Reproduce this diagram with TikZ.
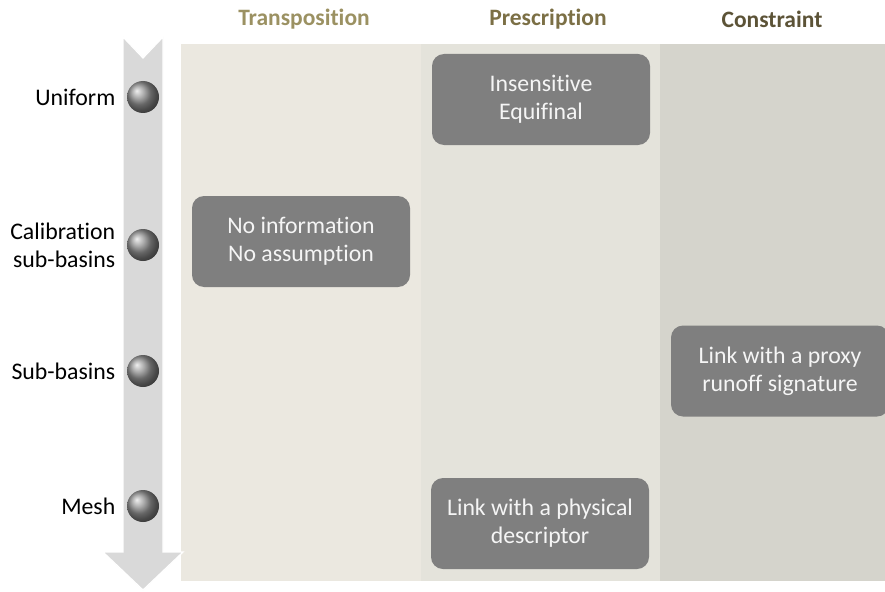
\documentclass[tikz,border=0pt]{standalone}
\usepackage{fontspec}
\setmainfont[Ligatures={NoCommon}]{Carlito}
\usepackage{tikz}
\usetikzlibrary{positioning}
\definecolor{colA}{HTML}{EBE8E0}
\definecolor{colB}{HTML}{E4E3DB}
\definecolor{colC}{HTML}{D5D4CC}
\definecolor{headA}{HTML}{9B9162}
\definecolor{headB}{HTML}{7B6F45}
\definecolor{headC}{HTML}{5C5337}
\definecolor{boxgray}{HTML}{7F7F7F}
\definecolor{shaft}{HTML}{D9D9D9}
\tikzstyle{block} = [rectangle, fill=boxgray, text=white!96!black, align=center,
    minimum width=218pt, minimum height=91pt, rounded corners=12pt,
    font=\fontsize{23.8}{28}\selectfont]
\tikzstyle{head} = [font=\fontsize{23.5}{26}\selectfont\bfseries]
\tikzstyle{bead} = [circle, minimum size=32pt, inner sep=0pt, shading=ball, ball color=gray!85]
\tikzstyle{level} = [align=right, font=\fontsize{23.8}{28}\selectfont]

\begin{document}
\begin{tikzpicture}[x=1pt, y=-1pt, node distance = 8pt]
   \useasboundingbox (0,0) rectangle (885,591);
   % three columns
   \fill [colA] (181,44) rectangle (421,581);
   \fill [colB] (421,44) rectangle (660,581);
   \fill [colC] (660,44) rectangle (885,581);
   \node [head, text=headA] (transposition) at (304,19) {Transposition};
   \node [head, text=headB] (prescription) at (548,19) {Prescription};
   \node [head, text=headC] (constraint) at (772,19) {Constraint};
   % scale arrow
   \filldraw [fill=shaft, draw=white, line width=1.2pt]
     (123,37) -- (143,58) -- (163,37) -- (163,552) -- (183,552)
     -- (143,590) -- (103,552) -- (123,552) -- cycle;
   \node [bead] (uniform) at (143,97) {};
   \node [bead] (calib) at (143,245) {};
   \node [bead] (subbasins) at (143,371) {};
   \node [bead] (mesh) at (143,506) {};
   \node [level, left=of uniform] (uniform_lbl) {Uniform};
   \node [level, left=of calib] (calib_lbl) {Calibration\\sub-basins};
   \node [level, left=of subbasins] (subbasins_lbl) {Sub-basins};
   \node [level, left=of mesh] (mesh_lbl) {Mesh};
   % approaches
   \node [block] (equifinal) at (541,99.5) {Insensitive\\Equifinal};
   \node [block] (no_info) at (301,241.5) {No information\\No assumption};
   \node [block] (proxy) at (780,371) {Link with a proxy\\runoff signature};
   \node [block] (physical) at (540,523.5) {Link with a physical\\descriptor};
\end{tikzpicture}
\end{document}
